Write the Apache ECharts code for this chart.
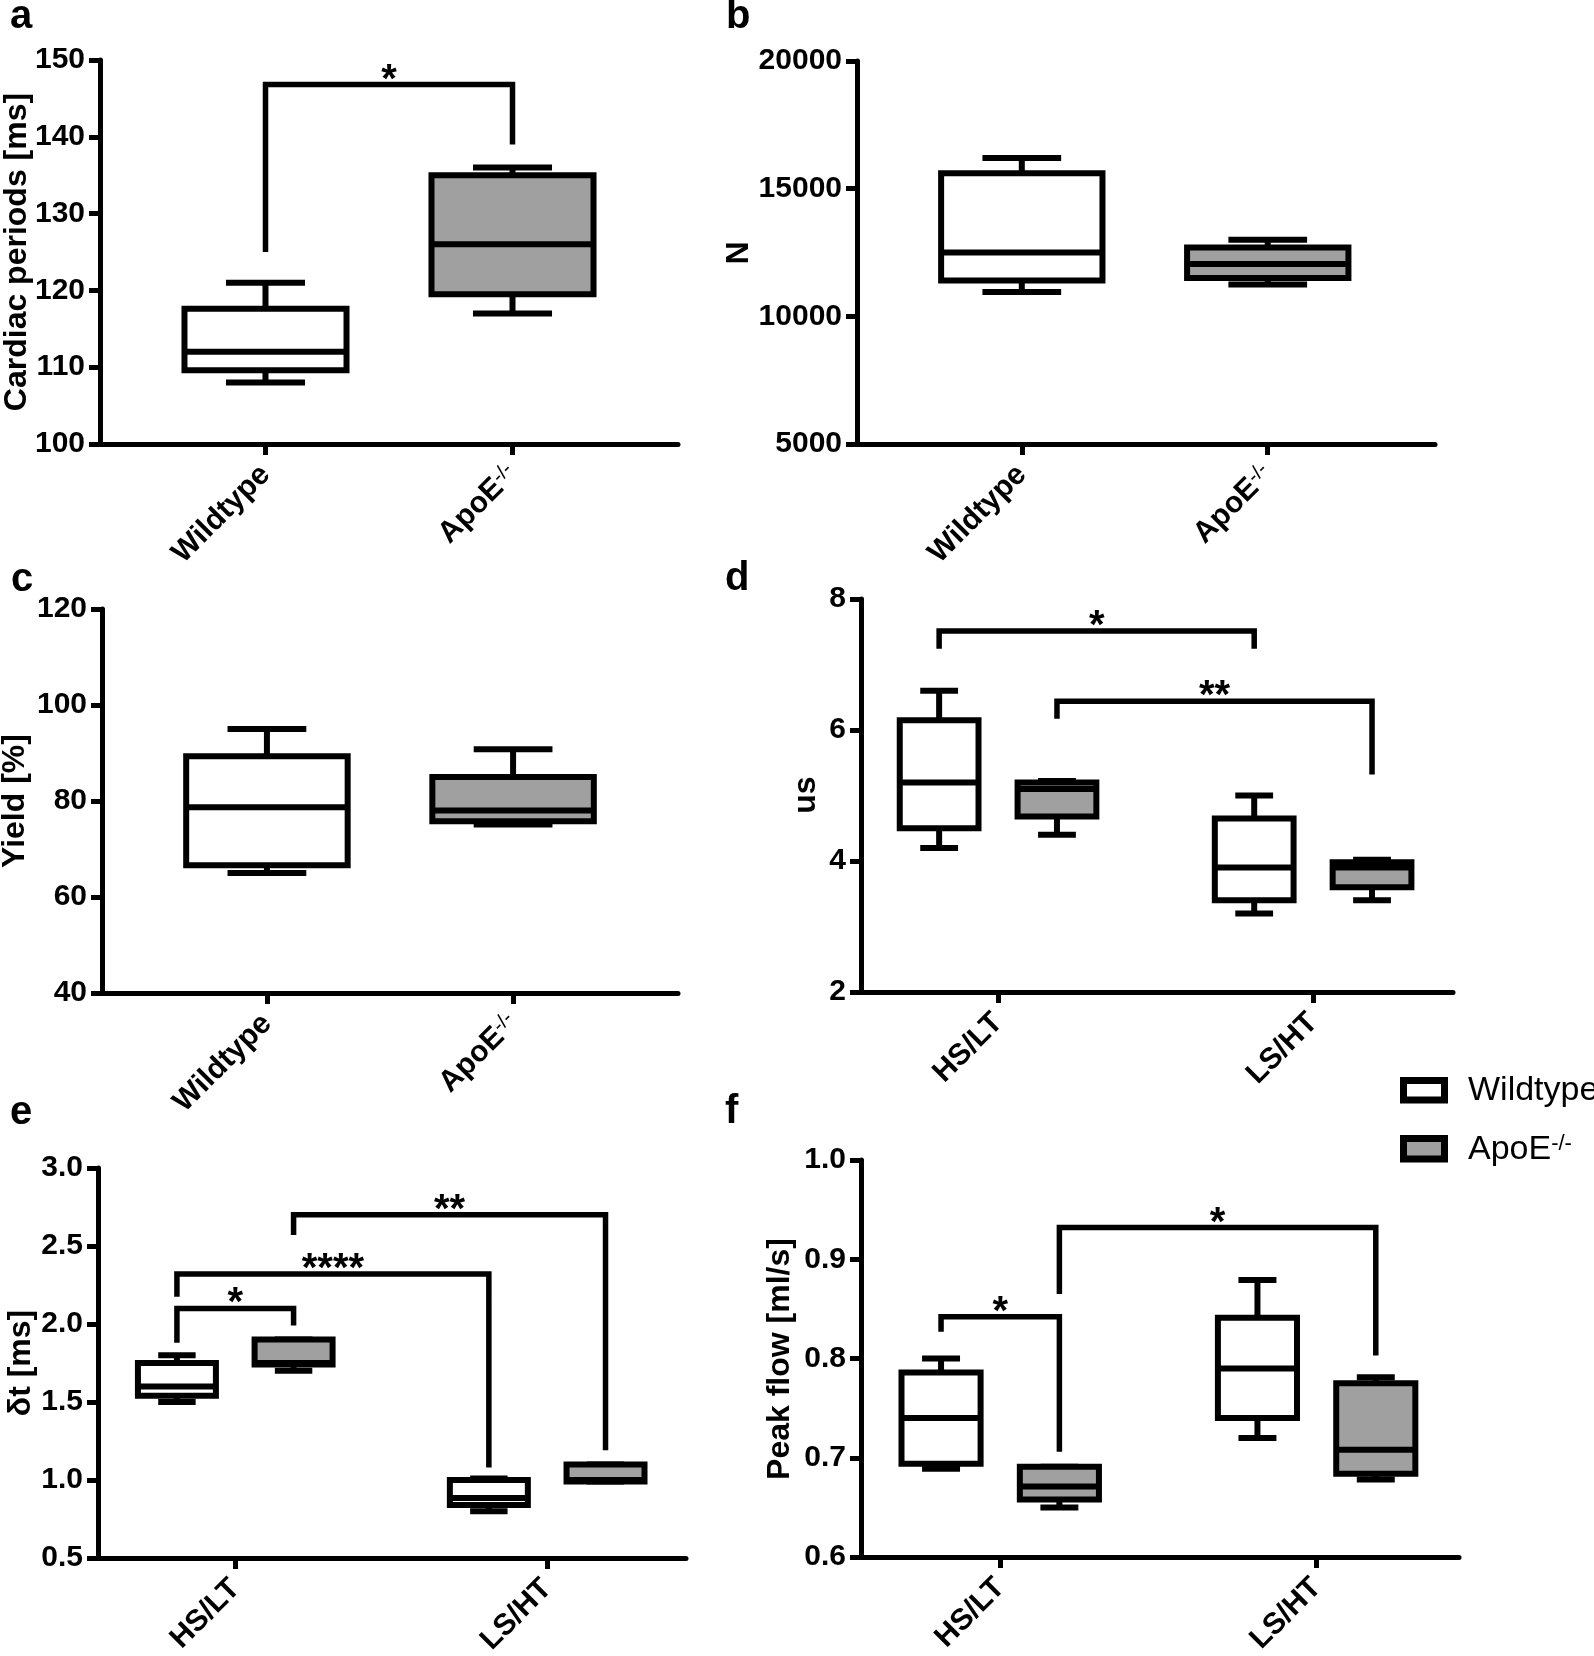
<!DOCTYPE html>
<html><head><meta charset="utf-8">
<script src="https://cdn.jsdelivr.net/npm/echarts@6/dist/echarts.min.js"></script>
<style>html,body{margin:0;padding:0;background:#fff}#c{width:1594px;height:1656px}</style>
</head><body><div id="c"></div>
<script>
// ---------- data ----------
const genotypes = ['Wildtype', 'ApoE-/-'];
const conditions = ['HS/LT', 'LS/HT'];

// box values: [min, q1, median, q3, max]
const cardiacWT   = [108, 109.6, 112, 117.6, 121];
const cardiacApoE = [117, 119.5, 126, 135, 136];
const cardiacTicks = [100, 110, 120, 130, 140, 150];
const cardiacBrackets = [[0, 1, 146.8, 125, 139]];   // x1, x2, bar, left end, right end
const cardiacStars = ['*'];

const nWT   = [10950, 11400, 12500, 15600, 16200];
const nApoE = [11250, 11500, 12050, 12700, 13000];
const nTicks = [5000, 10000, 15000, 20000];

const yieldWT   = [65, 66.6, 78.7, 89.3, 95];
const yieldApoE = [75.1, 75.8, 78, 85, 90.8];
const yieldTicks = [40, 60, 80, 100, 120];

// per condition (HS/LT, LS/HT)
const usWT   = [[4.2, 4.5, 5.2, 6.15, 6.6], [3.2, 3.4, 3.9, 4.65, 5.0]];
const usApoE = [[4.4, 4.68, 5.1, 5.2, 5.22], [3.4, 3.6, 3.9, 3.98, 4.02]];
const usTicks = [2, 4, 6, 8];
const usBrackets = [[-0.187, 0.813, 7.51, 7.24, 7.24], [0.187, 1.187, 6.44, 6.17, 5.32]];
const usStars = ['*', '**'];

const dtWT   = [[1.5, 1.54, 1.6, 1.75, 1.8], [0.8, 0.84, 0.885, 1.0, 1.01]];
const dtApoE = [[1.7, 1.74, 1.75, 1.9, 1.9], [0.99, 0.99, 1.0, 1.1, 1.1]];
const dtTicks = [0.5, 1.0, 1.5, 2.0, 2.5, 3.0];
const dtBrackets = [[-0.187, 0.187, 2.10, 1.88, 1.99], [-0.187, 0.813, 2.32, 2.175, 1.08], [0.187, 1.187, 2.70, 2.57, 1.19]];
const dtStars = ['*', '****', '**'];

const flowWT   = [[0.689, 0.694, 0.74, 0.786, 0.80], [0.72, 0.74, 0.79, 0.841, 0.879]];
const flowApoE = [[0.65, 0.658, 0.671, 0.691, 0.691], [0.678, 0.684, 0.708, 0.775, 0.781]];
const flowTicks = [0.6, 0.7, 0.8, 0.9, 1.0];
const flowBrackets = [[-0.187, 0.187, 0.842, 0.827, 0.706], [0.187, 1.187, 0.932, 0.865, 0.803]];
const flowStars = ['*', '*'];

// ---------- styling ----------
const FONT = '"Liberation Sans", Arial, sans-serif';
const WT_FILL = '#ffffff';
const APO_FILL = '#a0a0a0';
const OFF = 0.187;
const BOX_LW = 6;

function boxRender(boxW, capW, fill) {
  return function (params, api) {
    const x = api.value(0);
    const c = v => api.coord([x, v]);
    const pMn = c(api.value(1)), pQ1 = c(api.value(2)), pMd = c(api.value(3)), pQ3 = c(api.value(4)), pMx = c(api.value(5));
    const half = api.size([boxW, 0])[0] / 2;
    const capHalf = api.size([capW, 0])[0] / 2;
    const cx = pMd[0];
    const ls = { stroke: '#000', lineWidth: BOX_LW };
    return {
      type: 'group',
      children: [
        { type: 'line', shape: { x1: cx, y1: pQ3[1], x2: cx, y2: pMx[1] }, style: ls },
        { type: 'line', shape: { x1: cx, y1: pQ1[1], x2: cx, y2: pMn[1] }, style: ls },
        { type: 'line', shape: { x1: cx - capHalf, y1: pMx[1], x2: cx + capHalf, y2: pMx[1] }, style: ls },
        { type: 'line', shape: { x1: cx - capHalf, y1: pMn[1], x2: cx + capHalf, y2: pMn[1] }, style: ls },
        { type: 'rect', shape: { x: cx - half, y: pQ3[1], width: 2 * half, height: pQ1[1] - pQ3[1] }, style: { fill: fill, stroke: '#000', lineWidth: BOX_LW } },
        { type: 'line', shape: { x1: cx - half, y1: pMd[1], x2: cx + half, y2: pMd[1] }, style: ls }
      ]
    };
  };
}

function bracketRender(labels) {
  return function (params, api) {
    const x1 = api.value(0), x2 = api.value(1), yb = api.value(2), yl = api.value(3), yr = api.value(4);
    const p1 = api.coord([x1, yl]), p2 = api.coord([x1, yb]), p3 = api.coord([x2, yb]), p4 = api.coord([x2, yr]);
    return {
      type: 'group',
      children: [
        { type: 'polyline', shape: { points: [p1, p2, p3, p4] }, style: { stroke: '#000', lineWidth: 5.5, fill: 'none', lineJoin: 'miter' } },
        { type: 'text', x: (p2[0] + p3[0]) / 2, y: p2[1] - 4,
          style: { text: labels[params.dataIndex], fontSize: 40, fontWeight: 'bold', fontFamily: FONT, fill: '#000', align: 'center', verticalAlign: 'middle' } }
      ]
    };
  };
}

const grids = [
  { left: 100, top: 60, width: 578, height: 384 },
  { left: 857, top: 61, width: 578, height: 383 },
  { left: 102, top: 609, width: 576, height: 384 },
  { left: 861, top: 599, width: 592, height: 393 },
  { left: 98, top: 1168, width: 588, height: 390 },
  { left: 861, top: 1160, width: 598, height: 397 }
].map(g => Object.assign({ containLabel: false, outerBoundsMode: 'none' }, g));

const richX = {
  n: { fontSize: 30, fontWeight: 'bold', fontFamily: FONT, color: '#000' },
  s: { fontSize: 20, fontWeight: 'normal', fontFamily: FONT, color: '#000', verticalAlign: 'top' }
};

function xLabelText(names) {
  return function (v) {
    const name = names[Math.round(v)] || '';
    if (name === 'ApoE-/-') return '{n|ApoE}{s|-/-}';
    return '{n|' + name + '}';
  };
}

function makeX(gi, range, names) {
  return {
    type: 'value', gridIndex: gi, min: range[0], max: range[1],
    splitLine: { show: false },
    axisLine: { show: true, onZero: false, lineStyle: { color: '#000', width: 5 } },
    axisTick: { show: true, customValues: [0, 1], length: 11, lineStyle: { color: '#000', width: 5 } },
    axisLabel: { show: true, customValues: [0, 1], rotate: 45, margin: 26, formatter: xLabelText(names), rich: richX }
  };
}

function makeY(gi, ticks, decimals) {
  return {
    type: 'value', gridIndex: gi, min: ticks[0], max: ticks[ticks.length - 1], interval: ticks[1] - ticks[0],
    splitLine: { show: false },
    axisLine: { show: true, onZero: false, lineStyle: { color: '#000', width: 5 } },
    axisTick: { show: true, length: 11, lineStyle: { color: '#000', width: 5 } },
    axisLabel: {
      show: true, margin: 15, fontSize: 30, fontWeight: 'bold', fontFamily: FONT, color: '#000',
      formatter: v => decimals ? Number(v).toFixed(decimals) : String(Math.round(v))
    }
  };
}

const xAxes = [
  makeX(0, [-0.67, 1.67], genotypes),
  makeX(1, [-0.67, 1.68], genotypes),
  makeX(2, [-0.67, 1.67], genotypes),
  makeX(3, [-0.435, 1.444], conditions),
  makeX(4, [-0.44, 1.445], conditions),
  makeX(5, [-0.44, 1.45], conditions)
];
const yAxes = [
  makeY(0, cardiacTicks, 0),
  makeY(1, nTicks, 0),
  makeY(2, yieldTicks, 0),
  makeY(3, usTicks, 0),
  makeY(4, dtTicks, 1),
  makeY(5, flowTicks, 1)
];

const BIG_W = 0.656, BIG_CAP = 0.32, SM_W = 0.25, SM_CAP = 0.12;

function boxSeries(gi, data, fill, w, cap) {
  return {
    type: 'custom', xAxisIndex: gi, yAxisIndex: gi, renderItem: boxRender(w, cap, fill),
    encode: { x: 0, y: [1, 2, 3, 4, 5] }, data: data, silent: true, clip: false
  };
}
function bracketSeries(gi, data, labels) {
  return {
    type: 'custom', xAxisIndex: gi, yAxisIndex: gi, renderItem: bracketRender(labels),
    encode: { x: [0, 1], y: [2, 3, 4] }, data: data, silent: true, clip: false
  };
}

const series = [
  boxSeries(0, [[0].concat(cardiacWT)], WT_FILL, BIG_W, BIG_CAP),
  boxSeries(0, [[1].concat(cardiacApoE)], APO_FILL, BIG_W, BIG_CAP),
  bracketSeries(0, cardiacBrackets, cardiacStars),
  boxSeries(1, [[0].concat(nWT)], WT_FILL, BIG_W, BIG_CAP),
  boxSeries(1, [[1].concat(nApoE)], APO_FILL, BIG_W, BIG_CAP),
  boxSeries(2, [[0].concat(yieldWT)], WT_FILL, BIG_W, BIG_CAP),
  boxSeries(2, [[1].concat(yieldApoE)], APO_FILL, BIG_W, BIG_CAP),
  boxSeries(3, usWT.map((b, i) => [i - OFF].concat(b)), WT_FILL, SM_W, SM_CAP),
  boxSeries(3, usApoE.map((b, i) => [i + OFF].concat(b)), APO_FILL, SM_W, SM_CAP),
  bracketSeries(3, usBrackets, usStars),
  boxSeries(4, dtWT.map((b, i) => [i - OFF].concat(b)), WT_FILL, SM_W, SM_CAP),
  boxSeries(4, dtApoE.map((b, i) => [i + OFF].concat(b)), APO_FILL, SM_W, SM_CAP),
  bracketSeries(4, dtBrackets, dtStars),
  boxSeries(5, flowWT.map((b, i) => [i - OFF].concat(b)), WT_FILL, SM_W, SM_CAP),
  boxSeries(5, flowApoE.map((b, i) => [i + OFF].concat(b)), APO_FILL, SM_W, SM_CAP),
  bracketSeries(5, flowBrackets, flowStars)
];

function txt(x, y, text, size, weight, rot, align) {
  return {
    type: 'text', x: x, y: y, rotation: rot || 0, silent: true,
    style: { text: text, fontSize: size, fontWeight: weight, fontFamily: FONT, fill: '#000', align: align || 'center', verticalAlign: 'middle' }
  };
}
const R = Math.PI / 2;
const graphics = [
  txt(10, 17, 'a', 40, 'bold', 0, 'left'),
  txt(726, 17, 'b', 40, 'bold', 0, 'left'),
  txt(11, 580, 'c', 40, 'bold', 0, 'left'),
  txt(725, 579, 'd', 40, 'bold', 0, 'left'),
  txt(10, 1113, 'e', 40, 'bold', 0, 'left'),
  txt(725, 1112, 'f', 40, 'bold', 0, 'left'),
  txt(17, 252, 'Cardiac periods [ms]', 32, 'bold', R),
  txt(739, 253, 'N', 32, 'bold', R),
  txt(15, 801, 'Yield [%]', 32, 'bold', R),
  txt(806, 795, 'us', 32, 'bold', R),
  txt(21, 1363, 'δt [ms]', 32, 'bold', R),
  txt(780, 1359, 'Peak flow [ml/s]', 32, 'bold', R),
  { type: 'rect', silent: true, shape: { x: 1403.5, y: 1080.5, width: 41, height: 19.5 }, style: { fill: WT_FILL, stroke: '#000', lineWidth: 7 } },
  { type: 'rect', silent: true, shape: { x: 1403.5, y: 1138.5, width: 41, height: 20.5 }, style: { fill: APO_FILL, stroke: '#000', lineWidth: 7 } },
  txt(1468, 1091, 'Wildtype', 34, 'normal', 0, 'left'),
  {
    type: 'text', x: 1468, y: 1150, silent: true,
    style: {
      text: '{n|ApoE}{s|-/-}', align: 'left', verticalAlign: 'middle',
      rich: {
        n: { fontSize: 34, fontFamily: FONT, fill: '#000', color: '#000' },
        s: { fontSize: 22, fontFamily: FONT, fill: '#000', color: '#000', verticalAlign: 'top' }
      }
    }
  }
];

const chart = echarts.init(document.getElementById('c'), null, { renderer: 'canvas', width: 1594, height: 1656 });
chart.setOption({
  backgroundColor: '#ffffff',
  animation: false,
  grid: grids,
  xAxis: xAxes,
  yAxis: yAxes,
  series: series,
  graphic: graphics
});
</script>
</body></html>
